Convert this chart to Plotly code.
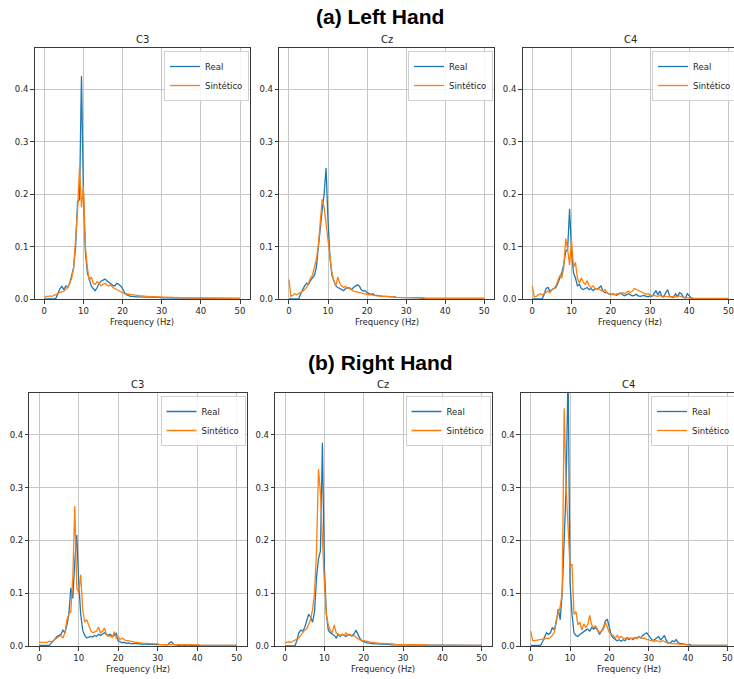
import plotly.graph_objects as go

# Frequency grid (Hz)
freq = [round(i * 0.5, 1) for i in range(101)]

channels = ["C3", "Cz", "C4"]
series_names = ["Real", "Sintético"]
x_ticks = [0, 10, 20, 30, 40, 50]
y_ticks = [0.0, 0.1, 0.2, 0.3, 0.4]

# ---------------- (a) Left Hand ----------------
lh_c3_real = [
    0.0, 0.0, 0.0, 0.0, 0.0, 0.0, 0.002, 0.012, 0.020, 0.024,
    0.018, 0.025, 0.022, 0.030, 0.045, 0.060, 0.100, 0.185, 0.190, 0.425,
    0.200, 0.090, 0.050, 0.035, 0.025, 0.020, 0.016, 0.022, 0.030, 0.034,
    0.036, 0.038, 0.035, 0.032, 0.028, 0.026, 0.025, 0.030, 0.028, 0.025,
    0.020, 0.012, 0.008, 0.006, 0.005, 0.005, 0.004, 0.004, 0.004, 0.004,
    0.003, 0.003, 0.004, 0.003, 0.003, 0.003, 0.004, 0.003, 0.003, 0.003,
    0.002, 0.002, 0.002, 0.002, 0.002, 0.002, 0.002, 0.002, 0.002, 0.002,
    0.001, 0.001, 0.001, 0.001, 0.001, 0.001, 0.001, 0.001, 0.001, 0.001,
    0.001, 0.001, 0.001, 0.001, 0.001, 0.001, 0.001, 0.001, 0.001, 0.001,
    0.001, 0.001, 0.001, 0.001, 0.001, 0.001, 0.001, 0.001, 0.001, 0.001,
    0.001,
]
lh_c3_syn = [
    0.003, 0.005, 0.005, 0.006, 0.005, 0.007, 0.008, 0.010, 0.012, 0.014,
    0.015, 0.018, 0.022, 0.030, 0.040, 0.060, 0.110, 0.170, 0.250, 0.175,
    0.215, 0.100, 0.060, 0.035, 0.042, 0.030, 0.028, 0.033, 0.030, 0.025,
    0.028, 0.030, 0.027, 0.025, 0.027, 0.022, 0.020, 0.018, 0.015, 0.013,
    0.012, 0.010, 0.010, 0.009, 0.009, 0.008, 0.008, 0.007, 0.007, 0.006,
    0.006, 0.005, 0.005, 0.005, 0.004, 0.005, 0.004, 0.004, 0.004, 0.004,
    0.003, 0.003, 0.003, 0.003, 0.003, 0.003, 0.003, 0.002, 0.003, 0.002,
    0.002, 0.002, 0.002, 0.002, 0.002, 0.002, 0.002, 0.002, 0.002, 0.002,
    0.001, 0.001, 0.001, 0.001, 0.001, 0.001, 0.001, 0.001, 0.001, 0.001,
    0.001, 0.001, 0.001, 0.001, 0.001, 0.001, 0.001, 0.001, 0.001, 0.001,
    0.001,
]
lh_cz_real = [
    0.0, 0.0, 0.0, 0.0, 0.0, 0.0, 0.010, 0.018, 0.025, 0.030,
    0.028, 0.035, 0.040, 0.045, 0.060, 0.100, 0.130, 0.170, 0.200, 0.250,
    0.150, 0.080, 0.045, 0.035, 0.025, 0.022, 0.020, 0.018, 0.016, 0.020,
    0.022, 0.020, 0.018, 0.022, 0.025, 0.027, 0.025, 0.018, 0.015, 0.016,
    0.012, 0.010, 0.009, 0.010, 0.007, 0.007, 0.006, 0.006, 0.005, 0.005,
    0.005, 0.004, 0.004, 0.004, 0.004, 0.003, 0.003, 0.003, 0.003, 0.003,
    0.003, 0.002, 0.002, 0.002, 0.002, 0.002, 0.002, 0.002, 0.001, 0.001,
    0.001, 0.001, 0.001, 0.001, 0.001, 0.001, 0.001, 0.001, 0.001, 0.001,
    0.001, 0.001, 0.001, 0.001, 0.001, 0.001, 0.001, 0.001, 0.001, 0.001,
    0.001, 0.001, 0.001, 0.001, 0.001, 0.001, 0.001, 0.001, 0.001, 0.001,
    0.001,
]
lh_cz_syn = [
    0.037, 0.005, 0.007, 0.010, 0.008, 0.010, 0.012, 0.015, 0.018, 0.022,
    0.030, 0.040, 0.045, 0.060, 0.075, 0.100, 0.140, 0.190, 0.175, 0.145,
    0.120, 0.080, 0.050, 0.035, 0.025, 0.042, 0.030, 0.025, 0.022, 0.024,
    0.020, 0.022, 0.018, 0.015, 0.014, 0.013, 0.012, 0.011, 0.010, 0.010,
    0.009, 0.008, 0.008, 0.007, 0.007, 0.006, 0.006, 0.005, 0.005, 0.005,
    0.005, 0.004, 0.005, 0.004, 0.004, 0.003, 0.003, 0.003, 0.003, 0.002,
    0.002, 0.002, 0.002, 0.002, 0.002, 0.002, 0.002, 0.002, 0.002, 0.002,
    0.001, 0.001, 0.001, 0.001, 0.001, 0.001, 0.001, 0.001, 0.001, 0.001,
    0.001, 0.001, 0.001, 0.001, 0.001, 0.001, 0.001, 0.001, 0.001, 0.001,
    0.001, 0.001, 0.001, 0.001, 0.001, 0.001, 0.001, 0.001, 0.001, 0.001,
    0.001,
]
lh_c4_real = [
    0.0, 0.0, 0.0, 0.0, 0.0, 0.0, 0.008, 0.020, 0.022, 0.015,
    0.018, 0.020, 0.022, 0.030, 0.040, 0.050, 0.065, 0.090, 0.095, 0.172,
    0.090, 0.050, 0.040, 0.025, 0.028, 0.020, 0.018, 0.020, 0.022, 0.018,
    0.020, 0.016, 0.020, 0.018, 0.022, 0.025, 0.015, 0.012, 0.012, 0.010,
    0.008, 0.010, 0.008, 0.007, 0.010, 0.012, 0.008, 0.006, 0.008, 0.010,
    0.008, 0.006, 0.007, 0.009, 0.006, 0.005, 0.006, 0.007, 0.005, 0.004,
    0.006, 0.005, 0.010, 0.016, 0.008, 0.015, 0.005, 0.004, 0.012, 0.018,
    0.005, 0.004, 0.003, 0.010, 0.004, 0.012, 0.010, 0.003, 0.002, 0.010,
    0.005, 0.002, 0.001, 0.001, 0.0005, 0.0005, 0.0005, 0.0005, 0.0005, 0.0005,
    0.0005, 0.0005, 0.0005, 0.0005, 0.0005, 0.0005, 0.0005, 0.0005, 0.0005, 0.0005,
    0.0005,
]
lh_c4_syn = [
    0.025, 0.004, 0.005, 0.007, 0.010, 0.008, 0.010, 0.012, 0.015, 0.012,
    0.018, 0.020, 0.025, 0.035, 0.045, 0.040, 0.060, 0.115, 0.095, 0.065,
    0.112, 0.060, 0.070, 0.040, 0.030, 0.040, 0.032, 0.028, 0.035, 0.025,
    0.022, 0.025, 0.020, 0.018, 0.020, 0.016, 0.015, 0.018, 0.012, 0.010,
    0.010, 0.009, 0.008, 0.010, 0.009, 0.010, 0.012, 0.010, 0.012, 0.015,
    0.012, 0.015, 0.020, 0.018, 0.017, 0.015, 0.012, 0.010, 0.009, 0.010,
    0.008, 0.006, 0.007, 0.006, 0.005, 0.007, 0.005, 0.006, 0.005, 0.004,
    0.005, 0.004, 0.005, 0.004, 0.004, 0.006, 0.004, 0.003, 0.003, 0.002,
    0.002, 0.001, 0.001, 0.001, 0.001, 0.001, 0.001, 0.001, 0.001, 0.001,
    0.001, 0.001, 0.001, 0.001, 0.001, 0.001, 0.001, 0.001, 0.001, 0.001,
    0.001,
]

# ---------------- (b) Right Hand ----------------
rh_c3_real = [
    0.001, 0.001, 0.001, 0.001, 0.001, 0.001, 0.005, 0.010, 0.015, 0.018,
    0.020, 0.022, 0.030, 0.025, 0.040, 0.060, 0.110, 0.090, 0.160, 0.210,
    0.120, 0.060, 0.030, 0.020, 0.015, 0.016, 0.018, 0.017, 0.020, 0.018,
    0.022, 0.020, 0.022, 0.025, 0.022, 0.020, 0.022, 0.018, 0.020, 0.025,
    0.010, 0.008, 0.006, 0.007, 0.005, 0.006, 0.005, 0.004, 0.005, 0.004,
    0.004, 0.004, 0.003, 0.004, 0.003, 0.003, 0.003, 0.003, 0.003, 0.003,
    0.002, 0.002, 0.003, 0.002, 0.003, 0.002, 0.006, 0.008, 0.003, 0.002,
    0.002, 0.001, 0.002, 0.001, 0.001, 0.002, 0.001, 0.001, 0.001, 0.001,
    0.001, 0.001, 0.001, 0.001, 0.001, 0.001, 0.001, 0.001, 0.001, 0.001,
    0.001, 0.001, 0.001, 0.001, 0.001, 0.001, 0.001, 0.001, 0.001, 0.001,
    0.001,
]
rh_c3_syn = [
    0.007, 0.007, 0.007, 0.008, 0.007, 0.009, 0.008, 0.010, 0.012, 0.015,
    0.018, 0.020, 0.015, 0.025, 0.050, 0.060, 0.065, 0.130, 0.265, 0.110,
    0.100, 0.135, 0.070, 0.045, 0.050, 0.040, 0.030, 0.025, 0.026, 0.028,
    0.036, 0.025, 0.028, 0.034, 0.022, 0.018, 0.020, 0.016, 0.027, 0.015,
    0.018, 0.012, 0.015, 0.012, 0.010, 0.010, 0.009, 0.009, 0.008, 0.007,
    0.007, 0.006, 0.006, 0.005, 0.005, 0.005, 0.004, 0.004, 0.004, 0.004,
    0.004, 0.003, 0.003, 0.003, 0.003, 0.003, 0.003, 0.003, 0.003, 0.003,
    0.003, 0.002, 0.002, 0.002, 0.002, 0.002, 0.002, 0.002, 0.002, 0.002,
    0.002, 0.002, 0.001, 0.001, 0.001, 0.001, 0.001, 0.001, 0.001, 0.001,
    0.001, 0.001, 0.001, 0.001, 0.001, 0.001, 0.001, 0.001, 0.001, 0.001,
    0.001,
]
rh_cz_real = [
    0.0, 0.0, 0.0, 0.0, 0.0, 0.0, 0.010, 0.025, 0.030, 0.028,
    0.035, 0.050, 0.060, 0.055, 0.045, 0.065, 0.130, 0.165, 0.180, 0.385,
    0.150, 0.060, 0.030, 0.025, 0.022, 0.020, 0.015, 0.022, 0.018, 0.022,
    0.020, 0.018, 0.022, 0.020, 0.020, 0.022, 0.030, 0.022, 0.015, 0.010,
    0.008, 0.007, 0.006, 0.005, 0.005, 0.004, 0.004, 0.004, 0.003, 0.003,
    0.003, 0.003, 0.003, 0.003, 0.002, 0.002, 0.002, 0.002, 0.002, 0.002,
    0.002, 0.002, 0.002, 0.002, 0.002, 0.001, 0.001, 0.001, 0.001, 0.001,
    0.001, 0.001, 0.001, 0.001, 0.001, 0.001, 0.001, 0.001, 0.001, 0.001,
    0.001, 0.001, 0.001, 0.001, 0.001, 0.001, 0.001, 0.001, 0.001, 0.001,
    0.001, 0.001, 0.001, 0.001, 0.001, 0.001, 0.001, 0.001, 0.001, 0.001,
    0.001,
]
rh_cz_syn = [
    0.006, 0.007, 0.008, 0.007, 0.009, 0.010, 0.012, 0.015, 0.020, 0.025,
    0.030, 0.032, 0.040, 0.050, 0.070, 0.100, 0.180, 0.335, 0.290, 0.190,
    0.120, 0.060, 0.040, 0.030, 0.025, 0.040, 0.025, 0.022, 0.020, 0.022,
    0.020, 0.025, 0.020, 0.022, 0.018, 0.020, 0.016, 0.014, 0.012, 0.010,
    0.010, 0.009, 0.008, 0.008, 0.007, 0.007, 0.006, 0.006, 0.005, 0.005,
    0.005, 0.005, 0.005, 0.004, 0.004, 0.004, 0.003, 0.003, 0.003, 0.003,
    0.003, 0.003, 0.002, 0.002, 0.002, 0.002, 0.002, 0.002, 0.002, 0.002,
    0.002, 0.002, 0.002, 0.001, 0.001, 0.001, 0.001, 0.001, 0.001, 0.001,
    0.001, 0.001, 0.001, 0.001, 0.001, 0.001, 0.001, 0.001, 0.001, 0.001,
    0.001, 0.001, 0.001, 0.001, 0.001, 0.001, 0.001, 0.001, 0.001, 0.001,
    0.001,
]
rh_c4_real = [
    0.001, 0.001, 0.001, 0.001, 0.001, 0.001, 0.008, 0.015, 0.025, 0.022,
    0.025, 0.035, 0.030, 0.045, 0.070, 0.050, 0.100, 0.200, 0.300, 0.520,
    0.120, 0.060, 0.025, 0.020, 0.018, 0.022, 0.025, 0.028, 0.030, 0.032,
    0.028, 0.035, 0.032, 0.035, 0.030, 0.022, 0.028, 0.035, 0.048, 0.050,
    0.035, 0.020, 0.015, 0.012, 0.010, 0.012, 0.009, 0.012, 0.010, 0.015,
    0.012, 0.015, 0.012, 0.016, 0.015, 0.018, 0.015, 0.020, 0.022, 0.025,
    0.020, 0.015, 0.010, 0.012, 0.015, 0.018, 0.012, 0.015, 0.020, 0.010,
    0.005, 0.006, 0.010, 0.008, 0.012, 0.006, 0.005, 0.004, 0.003, 0.003,
    0.002, 0.003, 0.001, 0.001, 0.001, 0.001, 0.001, 0.001, 0.001, 0.001,
    0.001, 0.001, 0.001, 0.001, 0.001, 0.001, 0.001, 0.001, 0.001, 0.001,
    0.001,
]
rh_c4_syn = [
    0.028, 0.010, 0.010, 0.011, 0.012, 0.012, 0.013, 0.013, 0.015, 0.014,
    0.016, 0.020, 0.025, 0.050, 0.065, 0.075, 0.100, 0.450, 0.300, 0.220,
    0.150, 0.155, 0.060, 0.065, 0.040, 0.045, 0.030, 0.042, 0.035, 0.040,
    0.058, 0.040, 0.035, 0.038, 0.030, 0.025, 0.028, 0.032, 0.045, 0.035,
    0.025, 0.022, 0.020, 0.015, 0.020, 0.015, 0.018, 0.015, 0.014, 0.016,
    0.015, 0.014, 0.015, 0.016, 0.014, 0.018, 0.016, 0.014, 0.015, 0.012,
    0.012, 0.010, 0.010, 0.009, 0.010, 0.009, 0.008, 0.010, 0.008, 0.006,
    0.005, 0.005, 0.004, 0.004, 0.004, 0.003, 0.003, 0.003, 0.003, 0.002,
    0.002, 0.001, 0.001, 0.001, 0.001, 0.001, 0.001, 0.001, 0.001, 0.001,
    0.001, 0.001, 0.001, 0.001, 0.001, 0.001, 0.001, 0.001, 0.001, 0.001,
    0.001,
]

real_data = [lh_c3_real, lh_cz_real, lh_c4_real, rh_c3_real, rh_cz_real, rh_c4_real]
syn_data = [lh_c3_syn, lh_cz_syn, lh_c4_syn, rh_c3_syn, rh_cz_syn, rh_c4_syn]
group_titles = ["(a) Left Hand", "(b) Right Hand"]

# ---------------- layout (pixel geometry) ----------------
W, H = 734, 679
# (left, right, top, bottom, x_max, legend_right, legend_top)
geom = [
    (34.5, 249.8, 48, 299, 52.5, 249.0, 51),
    (279.2, 494.0, 48, 299, 52.5, 493.0, 51),
    (522.5, 734.0, 48, 299, 51.4, 737.0, 51),
    (29.4, 246.5, 393, 646, 52.5, 245.5, 396),
    (275.2, 491.6, 393, 646, 52.5, 490.5, 396),
    (520.9, 734.0, 393, 646, 51.7, 736.0, 396),
]
y_max = 0.479
blue = "#1f77b4"
orange = "#ff7f0e"
tick_font = dict(family="DejaVu Sans", size=8.5, color="#262626")

fig = go.Figure()
layout = dict(
    width=W, height=H,
    margin=dict(l=0, r=0, t=0, b=0, autoexpand=False),
    paper_bgcolor="white", plot_bgcolor="white",
    showlegend=True,
)
annotations = []

for k in range(6):
    left, right, top, bottom, xmax, lr, lt = geom[k]
    idx = "" if k == 0 else str(k + 1)
    leg = "legend" if k == 0 else "legend" + str(k + 1)
    fig.add_trace(go.Scatter(
        x=freq, y=real_data[k], mode="lines", name=series_names[0],
        line=dict(color=blue, width=1.3),
        xaxis="x" + idx, yaxis="y" + idx, legend=leg,
    ))
    fig.add_trace(go.Scatter(
        x=freq, y=syn_data[k], mode="lines", name=series_names[1],
        line=dict(color=orange, width=1.3),
        xaxis="x" + idx, yaxis="y" + idx, legend=leg,
    ))
    common = dict(
        showgrid=True, gridcolor="#c6c6c6", gridwidth=1,
        showline=True, linecolor="#3a3a3a", linewidth=1, mirror=True,
        ticks="outside", ticklen=3.5, tickwidth=1, tickcolor="#3a3a3a",
        tickfont=tick_font, zeroline=False,
    )
    layout["xaxis" + idx] = dict(
        domain=[left / W, min(right / W, 1.0)],
        range=[-2.5, xmax], tickvals=x_ticks,
        anchor="y" + idx, **common,
    )
    layout["yaxis" + idx] = dict(
        domain=[1 - bottom / H, 1 - top / H],
        range=[0, y_max], tickvals=y_ticks, tickformat=".1f",
        anchor="x" + idx, **common,
    )
    layout[leg] = dict(
        x=lr / W, y=1 - lt / H, xanchor="right", yanchor="top",
        bgcolor="rgba(255,255,255,0.85)", bordercolor="#d0d0d0", borderwidth=1,
        font=dict(family="DejaVu Sans", size=8.5, color="#262626"),
        tracegroupgap=0, itemwidth=30,
    )
    cx = (left + (right if k % 3 != 2 else left + 215.5)) / 2
    annotations.append(dict(
        text=channels[k % 3], x=cx / W, y=1 - (top - 8.5) / H,
        xref="paper", yref="paper", xanchor="center", yanchor="middle",
        showarrow=False, font=dict(family="DejaVu Sans", size=10, color="#262626"),
    ))
    annotations.append(dict(
        text="Frequency (Hz)", x=cx / W, y=1 - (bottom + 22.5) / H,
        xref="paper", yref="paper", xanchor="center", yanchor="middle",
        showarrow=False, font=dict(family="DejaVu Sans", size=8.5, color="#262626"),
    ))

for g, ypix in zip(group_titles, [16, 362]):
    annotations.append(dict(
        text="<b>" + g + "</b>", x=380 / W, y=1 - ypix / H,
        xref="paper", yref="paper", xanchor="center", yanchor="middle",
        showarrow=False, font=dict(family="Liberation Sans", size=21, color="black"),
    ))

layout["annotations"] = annotations
fig.update_layout(**layout)
fig.write_html(
    "out.html",
    config={"displayModeBar": False},
    post_script="document.body.style.margin='0px';document.body.style.overflow='hidden';",
)
# make sure the page has no default body margin
with open("out.html", "r", encoding="utf-8") as f:
    html = f.read()
html = html.replace("<body>", '<body style="margin:0;padding:0;overflow:hidden;">', 1)
with open("out.html", "w", encoding="utf-8") as f:
    f.write(html)
